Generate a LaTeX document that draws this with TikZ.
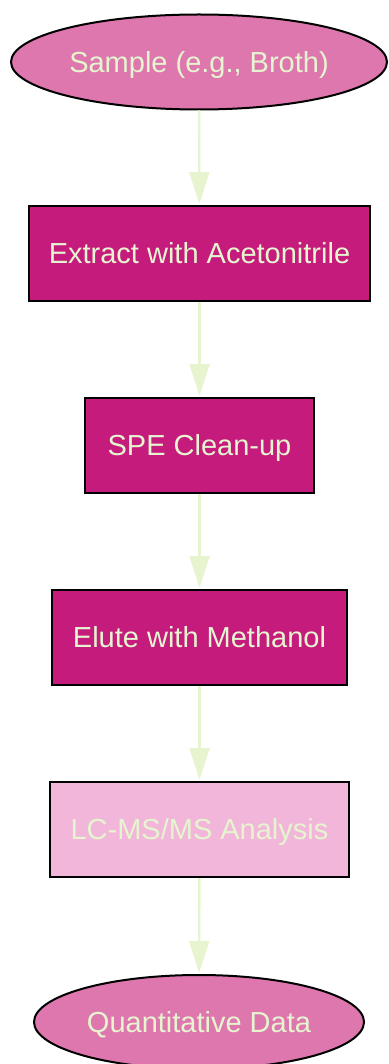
\documentclass[tikz,border=0pt]{standalone}
\usepackage{fontspec}
\setmainfont{Liberation Sans}
\usetikzlibrary{shapes.geometric,arrows.meta}
\definecolor{ellfill}{HTML}{DE77AE}
\definecolor{boxfill}{HTML}{C51B7D}
\definecolor{lightfill}{HTML}{F1B6DA}
\definecolor{txt}{HTML}{E6F5D0}
\tikzset{
  base/.style={draw=black, line width=2pt, text=txt, font=\fontsize{29}{34}\selectfont, inner sep=0pt, text height=24pt, text depth=3.2pt},
  ell/.style={base, ellipse, fill=ellfill},
  box/.style={base, rectangle, fill=boxfill},
  lightbox/.style={base, rectangle, fill=lightfill},
  conn/.style={draw=txt, line width=2.4pt, -{Triangle[length=32pt,width=20pt]}, shorten >=1pt}
}
\begin{document}
\begin{tikzpicture}[x=1pt,y=-1pt]
\useasboundingbox (0,0) rectangle (388,1064);
\node[ell, minimum width=376pt, minimum height=95pt] (s) at (199,62) {Sample (e.g., Broth)};
\node[box, minimum width=341pt, minimum height=95pt] (e) at (199.5,253.5) {Extract with Acetonitrile};
\node[box, minimum width=229pt, minimum height=95pt] (spe) at (199.5,445.5) {SPE Clean-up};
\node[box, minimum width=295pt, minimum height=95pt] (m) at (199.5,637.5) {Elute with Methanol};
\node[lightbox, minimum width=299pt, minimum height=95pt] (lc) at (199.5,829.5) {LC-MS/MS Analysis};
\node[ell, minimum width=330pt, minimum height=94pt] (q) at (199,1022) {Quantitative Data};
\draw[conn] (s) -- (e);
\draw[conn] (e) -- (spe);
\draw[conn] (spe) -- (m);
\draw[conn] (m) -- (lc);
\draw[conn] (lc) -- (q);
\end{tikzpicture}
\end{document}
